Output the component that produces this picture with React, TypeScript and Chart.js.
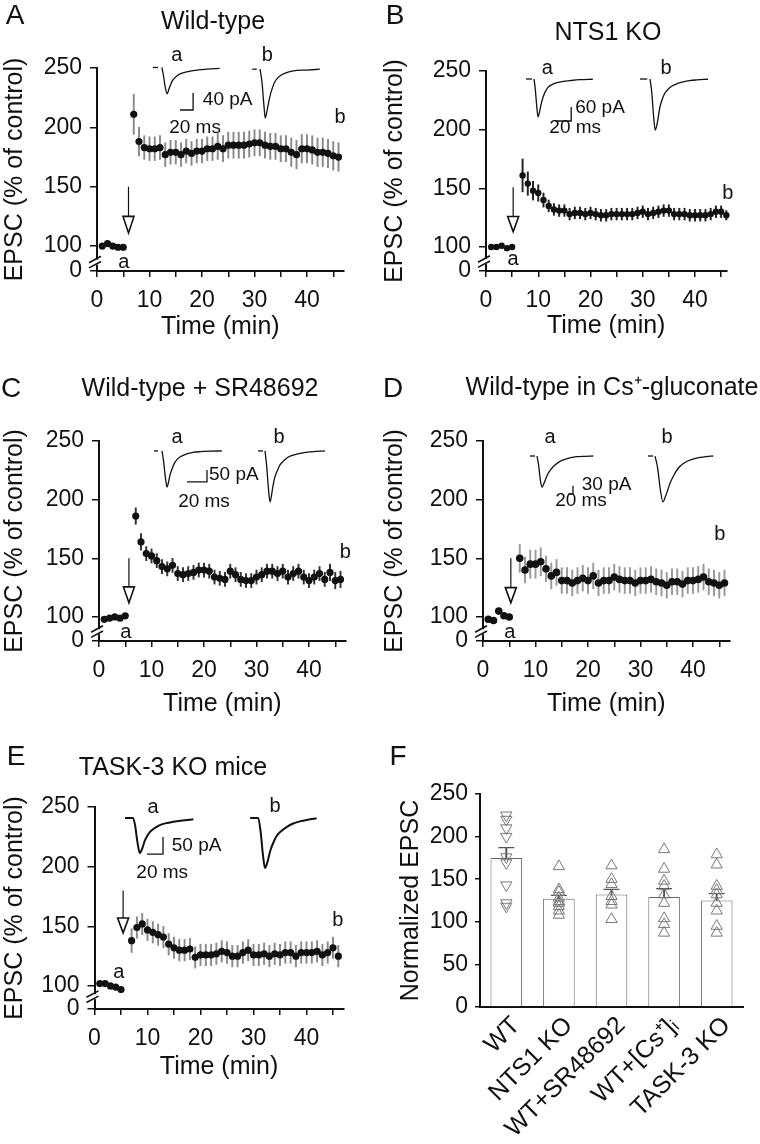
import React, { useEffect, useRef } from 'react';
import { Chart, registerables } from 'chart.js';
Chart.register(...registerables);

const FONT = '"Liberation Sans", Arial, Helvetica, sans-serif';
const INK = '#111111';

// ---------- time-course data (minutes, % of control) ----------
const TIME_MIN = [1, 2, 3, 4, 5, 7, 8, 9, 10, 11, 12, 13, 14, 15, 16, 17, 18, 19, 20, 21, 22, 23, 24, 25, 26, 27, 28, 29, 30, 31, 32, 33, 34, 35, 36, 37, 38, 39, 40, 41, 42, 43, 44, 45, 46];

const A_EPSC = [100, 102, 100, 99, 99, 211, 188, 183, 182, 182, 183, 177, 179, 179, 177, 180, 178, 180, 180, 182, 182, 184, 182, 185, 185, 185, 185, 186, 187, 187, 185, 184, 184, 182, 182, 179, 177, 182, 182, 181, 179, 179, 178, 176, 175];
const A_SEM = [2, 2, 2, 2, 2, 17, 12, 10, 10, 10, 10, 10, 10, 10, 10, 10, 10, 10, 10, 10, 10, 11, 11, 11, 11, 11, 11, 11, 11, 11, 11, 11, 11, 11, 11, 12, 12, 12, 12, 12, 12, 12, 12, 12, 12];

const B_EPSC = [100, 100, 101, 99, 100, 161, 154, 148, 146, 140, 135, 132, 131, 131, 128, 129, 129, 128, 129, 128, 127, 127, 128, 128, 128, 128, 128, 129, 130, 128, 129, 130, 131, 131, 128, 128, 128, 127, 127, 127, 127, 128, 130, 130, 127];
const B_SEM = [2, 2, 2, 2, 2, 14, 10, 8, 7, 6, 5, 5, 5, 5, 5, 5, 5, 5, 5, 5, 5, 5, 5, 5, 5, 5, 5, 5, 5, 5, 5, 5, 5, 5, 5, 5, 5, 5, 5, 5, 5, 5, 5, 5, 4];

const C_EPSC = [98, 99, 100, 99, 101, 186, 164, 154, 152, 148, 143, 141, 144, 137, 136, 137, 138, 140, 140, 139, 134, 133, 132, 139, 136, 132, 131, 131, 134, 136, 139, 139, 137, 139, 134, 137, 139, 134, 131, 134, 137, 132, 138, 131, 132];
const C_SEM = [2, 2, 2, 2, 2, 7, 7, 6, 6, 6, 6, 6, 6, 6, 6, 6, 6, 6, 6, 6, 6, 6, 6, 6, 6, 6, 6, 6, 6, 6, 6, 6, 6, 6, 6, 6, 6, 6, 6, 6, 6, 6, 7, 7, 7];

const D_EPSC = [98, 97, 105, 101, 100, 150, 140, 145, 145, 147, 141, 135, 138, 131, 131, 129, 131, 133, 131, 135, 129, 131, 131, 134, 132, 131, 131, 129, 131, 131, 132, 130, 129, 127, 130, 130, 128, 131, 131, 132, 134, 130, 129, 127, 129];
const D_SEM = [2, 2, 2, 2, 2, 12, 11, 12, 12, 12, 11, 11, 11, 11, 11, 11, 11, 11, 11, 11, 11, 11, 11, 11, 11, 11, 11, 11, 11, 11, 11, 11, 11, 11, 11, 11, 11, 11, 11, 11, 11, 11, 11, 11, 11];

const E_EPSC = [102, 102, 100, 99, 97, 138, 149, 152, 147, 145, 143, 141, 135, 132, 130, 130, 131, 124, 126, 126, 126, 127, 129, 128, 125, 125, 128, 130, 126, 126, 127, 125, 127, 126, 128, 128, 125, 128, 128, 128, 129, 126, 128, 132, 125];
const E_SEM = [2, 2, 2, 2, 2, 10, 9, 9, 9, 9, 9, 9, 9, 9, 9, 9, 9, 9, 9, 9, 9, 9, 9, 9, 9, 9, 9, 9, 9, 9, 9, 9, 9, 9, 9, 9, 9, 9, 9, 9, 9, 9, 9, 9, 9];

const Y_TICK_VALUES = [100, 150, 200, 250];
const Y_ZERO_LABEL = '0';

// ---------- example traces (ms, pA) ----------
const A_DASH_A = [[12, 0], [20, 0]];
const A_TRACE_A = [[26, 0], [28, -15], [31, -45], [34, -62], [37, -50], [40, -38], [43, -29], [48, -21], [54, -15], [62, -11], [74, -7.5], [85, -5], [95, -4], [115, -2]];
const A_DASH_B = [[165, -4], [172, -4]];
const A_TRACE_B = [[177, -4], [180, -35], [183, -90], [185, -119], [188, -100], [192, -69], [196, -48], [200, -33], [206, -22], [213, -15], [228, -8], [249, -6], [269, -4]];
const A_SCALE = [[54, -100], [74, -100], [74, -60]];

const B_DASH_A = [[7.5, 0], [15, 0]];
const B_TRACE_A = [[17.5, 0], [19, -40], [21, -120], [22.5, -163], [24.5, -140], [27, -100], [29, -76], [32, -52], [35, -36], [40, -24], [46, -16], [54, -10], [62, -7], [75, -3], [91, -1]];
const B_DASH_B = [[150, 0], [159, 0]];
const B_TRACE_B = [[162.5, 0], [164.5, -50], [167, -160], [169, -219], [171.5, -190], [175, -119], [178, -85], [181, -61], [185, -44], [190, -30], [197, -19], [204, -12], [212, -7], [221, -4], [235, -1]];
const B_SCALE = [[44, -180], [64, -180], [64, -120]];

const C_DASH_A = [[4, 0], [8, 0]];
const C_TRACE_A = [[12, 0], [13.5, -40], [15.5, -115], [17, -150], [18.5, -130], [20, -100], [21.7, -79], [24, -55], [26.7, -37.5], [30, -25], [36.7, -12.5], [43, -6], [50, -3], [60, -1], [72, 0]];
const C_DASH_B = [[108, 0], [113, 0]];
const C_TRACE_B = [[115, 0], [116.5, -55], [118.5, -160], [120, -212], [121.5, -185], [123, -145], [125, -107], [127.5, -80], [130, -58], [134, -40], [138, -26], [144, -16], [150, -10], [163, -3], [175, 0]];
const C_SCALE = [[37, -129], [57, -129], [57, -79]];

const D_DASH_A = [[20, 0], [40, 0]];
const D_TRACE_A = [[48, 0], [54, -30], [62, -90], [68, -112], [75, -100], [84, -80], [93, -62], [106, -45], [120, -32], [138, -20], [160, -12], [183, -6], [207, -2.5], [240, -1], [273, 0]];
const D_DASH_B = [[492, 0], [512, 0]];
const D_TRACE_B = [[520, 0], [530, -40], [542, -125], [552, -165], [562, -145], [571, -122], [580, -98], [596, -68], [613, -44], [632, -28], [653, -17], [675, -10], [700, -5], [725, -2], [753, 0]];
const D_SCALE = [[172, -137], [192, -137], [192, -107]];

const E_TRACE_A = [[12.5, 0], [22.5, 0], [25, -20], [28, -70], [31, -103], [34, -90], [37.5, -65], [44, -40], [50, -29], [56, -21], [64, -15], [73, -11], [82, -8], [90, -6], [98, -4]];
const E_TRACE_B = [[169, 0], [179, 0], [182, -40], [185, -110], [187.5, -147], [190.5, -130], [194, -97], [198, -72], [202, -53], [208, -38], [215, -26], [222, -17], [231, -10], [241, -5], [252, -1]];
const E_SCALE = [[40, -106], [60, -106], [60, -56]];

// ---------- summary (panel F) ----------
const F_GROUPS = ['WT', 'NTS1 KO', 'WT+SR48692', 'WT+[Cs\u207A]\u1D62', 'TASK-3 KO'];
const F_MEANS = [175, 127, 132, 129, 125];
const F_SEM = [12, 4, 6, 10, 8];
const F_WT = [225, 220, 210, 200, 176, 169, 143, 122, 118];
const F_NTS1 = [165, 138, 135, 128, 124, 122, 118, 113, 108];
const F_SR = [166, 150, 144, 130, 124, 120, 103];
const F_CS = [185, 162, 148, 142, 132, 122, 104, 97, 87];
const F_TASK = [179, 167, 142, 137, 132, 122, 113, 95, 87];
const F_TICKS = [0, 50, 100, 150, 200, 250];

// ---------- panel layout / style configs ----------
const TIME_PANELS = [
  {
    id: 'A', vals: A_EPSC, errs: A_SEM, errColor: '#8a8a8a', radius: 3.6,
    left: 0, top: 0, width: 380, height: 345,
    axisLeft: 97, pxPerMin: 5.25, xMax: 47, axisTop: 68, axisBottom: 271, xTitleY: 327, yZero: 79,
    letter: 'A', letterXY: [15, 16], title: 'Wild-type', titleXY: [213, 22],
    breakValue: 86.5, arrow: { x: 6, top: 150, head: 125, tip: 111 },
    labels: [{ text: 'a', x: 5.1, y: 86.5 }, { text: 'b', x: 46.3, y: 208 }],
  },
  {
    id: 'B', vals: B_EPSC, errs: B_SEM, errColor: '#222222', radius: 3.2,
    left: 380, top: 0, width: 380, height: 345,
    axisLeft: 486, pxPerMin: 5.225, xMax: 46, axisTop: 71, axisBottom: 271, xTitleY: 326, yZero: 79.5,
    letter: 'B', letterXY: [15, 16], title: 'NTS1 KO', titleXY: [228, 33],
    breakValue: 87.5, arrow: { x: 5.2, top: 151, head: 126, tip: 113 },
    labels: [{ text: 'a', x: 5.2, y: 89 }, { text: 'b', x: 46.3, y: 146 }],
  },
  {
    id: 'C', vals: C_EPSC, errs: C_SEM, errColor: '#333333', radius: 3.6,
    left: 0, top: 370, width: 380, height: 355,
    axisLeft: 99, pxPerMin: 5.25, xMax: 47, axisTop: 441, axisBottom: 641, xTitleY: 704, yZero: 79.5,
    letter: 'C', letterXY: [11, 19], title: 'Wild-type + SR48692', titleXY: [200, 19],
    breakValue: 87.5, arrow: { x: 5.7, top: 150, head: 125.6, tip: 112 },
    labels: [{ text: 'a', x: 5.1, y: 87 }, { text: 'b', x: 46.9, y: 155 }],
  },
  {
    id: 'D', vals: D_EPSC, errs: D_SEM, errColor: '#9a9a9a', radius: 3.8,
    left: 380, top: 370, width: 380, height: 355,
    axisLeft: 483, pxPerMin: 5.25, xMax: 47, axisTop: 441, axisBottom: 641, xTitleY: 704, yZero: 79.5,
    letter: 'D', letterXY: [13, 19], title: 'Wild-type in Cs\u207A-gluconate', titleXY: [232, 18],
    breakValue: 87.5, arrow: { x: 5.3, top: 150, head: 125, tip: 112 },
    labels: [{ text: 'a', x: 5.1, y: 87 }, { text: 'b', x: 45.1, y: 170 }],
  },
  {
    id: 'E', vals: E_EPSC, errs: E_SEM, errColor: '#8a8a8a', radius: 3.6,
    left: 0, top: 740, width: 380, height: 350,
    axisLeft: 94.5, pxPerMin: 5.3, xMax: 47, axisTop: 807, axisBottom: 1009, xTitleY: 1067, yZero: 80.7,
    letter: 'E', letterXY: [16, 17], title: 'TASK-3 KO mice', titleXY: [173, 28],
    breakValue: 91, arrow: { x: 5.4, top: 180, head: 157, tip: 144.5 },
    labels: [{ text: 'a', x: 4.6, y: 111 }, { text: 'b', x: 45.9, y: 155 }],
  },
];

const INSETS = [
  {
    id: 'iA', left: 145, top: 40, width: 200, height: 105, xMax: 307.7, yMin: -182.4, yMax: 64.7, lw: 1.3,
    traces: [A_TRACE_A, A_TRACE_B], straight: [A_DASH_A, A_DASH_B, A_SCALE],
    labels: [
      { text: 'a', x: 49, y: 29, size: 20, align: 'center' }, { text: 'b', x: 188, y: 29, size: 20, align: 'center' },
      { text: '40 pA', x: 89, y: -76, size: 19, align: 'left' }, { text: '20 ms', x: 77, y: -142, size: 19, align: 'center' },
    ],
  },
  {
    id: 'iB', left: 520, top: 55, width: 210, height: 90, xMax: 262.5, yMin: -283, yMax: 103, lw: 1.3,
    traces: [B_TRACE_A, B_TRACE_B], straight: [B_DASH_A, B_DASH_B, B_SCALE],
    labels: [
      { text: 'a', x: 34, y: 47, size: 20, align: 'center' }, { text: 'b', x: 182.5, y: 47, size: 20, align: 'center' },
      { text: '60 pA', x: 69, y: -124, size: 19, align: 'left' }, { text: '20 ms', x: 69, y: -210, size: 19, align: 'center' },
    ],
  },
  {
    id: 'iC', left: 150, top: 425, width: 190, height: 95, xMax: 190, yMin: -287.5, yMax: 108, lw: 1.3,
    traces: [C_TRACE_A, C_TRACE_B], straight: [C_DASH_A, C_DASH_B, C_SCALE],
    labels: [
      { text: 'a', x: 27, y: 56, size: 20, align: 'center' }, { text: 'b', x: 129, y: 56, size: 20, align: 'center' },
      { text: '50 pA', x: 59, y: -100, size: 19, align: 'left' }, { text: '20 ms', x: 54, y: -212, size: 19, align: 'center' },
    ],
  },
  {
    id: 'iD', left: 525, top: 425, width: 200, height: 90, xMax: 800, yMin: -212, yMax: 111.5, lw: 1.3,
    traces: [D_TRACE_A, D_TRACE_B], straight: [D_DASH_A, D_DASH_B, D_SCALE],
    labels: [
      { text: 'a', x: 100, y: 65, size: 20, align: 'center' }, { text: 'b', x: 568, y: 65, size: 20, align: 'center' },
      { text: '30 pA', x: 227, y: -104, size: 19, align: 'left' }, { text: '20 ms', x: 224, y: -160, size: 19, align: 'center' },
    ],
  },
  {
    id: 'iE', left: 115, top: 795, width: 210, height: 90, xMax: 262.5, yMin: -197, yMax: 67.6, lw: 2,
    traces: [E_TRACE_A, E_TRACE_B], straight: [E_SCALE],
    labels: [
      { text: 'a', x: 47.5, y: 32, size: 20, align: 'center' }, { text: 'b', x: 200, y: 35, size: 20, align: 'center' },
      { text: '50 pA', x: 71, y: -82, size: 19, align: 'left' }, { text: '20 ms', x: 59, y: -162, size: 19, align: 'center' },
    ],
  },
];

// ---------- plugins ----------
const timeDecor = {
  id: 'timeDecor',
  afterDraw(chart: any, _args: any, o: any) {
    const { ctx, chartArea } = chart;
    const xs = chart.scales.x;
    const ys = chart.scales.y;
    ctx.save();
    ctx.fillStyle = INK;
    ctx.strokeStyle = INK;
    ctx.textAlign = 'center';
    ctx.textBaseline = 'middle';
    ctx.font = `28px ${FONT}`;
    ctx.fillText(o.letter, o.letterXY[0], o.letterXY[1]);
    ctx.font = `25px ${FONT}`;
    ctx.fillText(o.title, o.titleXY[0], o.titleXY[1]);

    // axis break
    const ax = chartArea.left;
    const by = ys.getPixelForValue(o.breakValue);
    ctx.fillStyle = '#ffffff';
    ctx.fillRect(ax - 2, by - 2.5, 4.5, 5);
    ctx.strokeStyle = INK;
    ctx.lineWidth = 1.6;
    for (const d of [-2.6, 2.6]) {
      ctx.beginPath();
      ctx.moveTo(ax - 8, by + d + 3.2);
      ctx.lineTo(ax + 4, by + d - 3.2);
      ctx.stroke();
    }

    // arrow
    const px = xs.getPixelForValue(o.arrow.x);
    const yTop = ys.getPixelForValue(o.arrow.top);
    const yHead = ys.getPixelForValue(o.arrow.head);
    const yTip = ys.getPixelForValue(o.arrow.tip);
    ctx.lineWidth = 1.2;
    ctx.beginPath();
    ctx.moveTo(px, yTop);
    ctx.lineTo(px, yHead);
    ctx.stroke();
    ctx.beginPath();
    ctx.moveTo(px - 5.5, yHead);
    ctx.lineTo(px + 5.5, yHead);
    ctx.lineTo(px, yTip);
    ctx.closePath();
    ctx.fillStyle = '#ffffff';
    ctx.fill();
    ctx.lineWidth = 1.6;
    ctx.stroke();

    // a / b labels
    ctx.fillStyle = INK;
    ctx.font = `20px ${FONT}`;
    for (const l of o.labels) {
      ctx.fillText(l.text, xs.getPixelForValue(l.x), ys.getPixelForValue(l.y));
    }
    ctx.restore();
  },
};

const insetText = {
  id: 'insetText',
  afterDraw(chart: any, _args: any, o: any) {
    const { ctx } = chart;
    const xs = chart.scales.x;
    const ys = chart.scales.y;
    ctx.save();
    ctx.fillStyle = INK;
    ctx.textBaseline = 'middle';
    for (const l of o.labels) {
      ctx.font = `${l.size}px ${FONT}`;
      ctx.textAlign = l.align;
      ctx.fillText(l.text, xs.getPixelForValue(l.x), ys.getPixelForValue(l.y));
    }
    ctx.restore();
  },
};

const letterPlugin = {
  id: 'letterPlugin',
  afterDraw(chart: any, _args: any, o: any) {
    const { ctx } = chart;
    ctx.save();
    ctx.fillStyle = INK;
    ctx.textAlign = 'center';
    ctx.textBaseline = 'middle';
    ctx.font = `28px ${FONT}`;
    ctx.fillText(o.letter, o.x, o.y);
    ctx.restore();
  },
};

// ---------- components ----------
function TimePanel({ p }: { p: any }) {
  const ref = useRef<HTMLCanvasElement>(null);
  useEffect(() => {
    const axisRight = p.axisLeft + p.xMax * p.pxPerMin;
    const xH = p.xTitleY + 15 - p.axisBottom;
    const padding = {
      left: 0,
      top: p.axisTop - p.top,
      right: p.left + p.width - axisRight,
      bottom: p.top + p.height - p.axisBottom - xH,
    };
    const yW = p.axisLeft - p.left;
    const yTicks = [p.yZero, ...Y_TICK_VALUES];
    const chart = new Chart(ref.current as HTMLCanvasElement, {
      type: 'scatter',
      data: {
        datasets: [
          {
            type: 'scatter',
            data: TIME_MIN.map((t, i) => ({ x: t, y: p.vals[i] })),
            pointRadius: p.radius,
            pointBackgroundColor: INK,
            pointBorderColor: INK,
            pointBorderWidth: 0,
            showLine: false,
            clip: false,
            order: 0,
          },
          {
            type: 'bar',
            data: TIME_MIN.map((t, i) => ({ x: t, y: [p.vals[i] - p.errs[i], p.vals[i] + p.errs[i]] })),
            backgroundColor: p.errColor,
            borderWidth: 0,
            barThickness: 1.3,
            clip: false,
            order: 1,
          },
        ],
      } as any,
      options: {
        animation: false,
        responsive: false,
        devicePixelRatio: 1,
        events: [],
        layout: { autoPadding: false, padding },
        plugins: {
          legend: { display: false },
          tooltip: { enabled: false },
          timeDecor: {
            letter: p.letter, letterXY: p.letterXY, title: p.title, titleXY: p.titleXY,
            breakValue: p.breakValue, arrow: p.arrow, labels: p.labels,
          },
        },
        scales: {
          x: {
            type: 'linear',
            min: 0,
            max: p.xMax,
            offset: false,
            afterFit: (s: any) => { s.height = xH; },
            border: { display: true, color: INK, width: 2 },
            grid: { display: true, offset: false, drawOnChartArea: false, drawTicks: true, tickLength: 6, color: INK, lineWidth: 1.5 },
            ticks: {
              stepSize: 5, includeBounds: false, autoSkip: false, maxRotation: 0, minRotation: 0, padding: 10,
              color: INK, font: { family: FONT, size: 23 },
              callback: (v: any) => (Number(v) % 10 === 0 ? String(v) : ''),
            },
            title: { display: true, text: 'Time (min)', color: INK, font: { family: FONT, size: 25 }, padding: 0 },
          },
          y: {
            type: 'linear',
            min: p.yZero,
            max: 250,
            afterFit: (s: any) => { s.width = yW; },
            afterBuildTicks: (s: any) => { s.ticks = yTicks.map((v: number) => ({ value: v })); },
            border: { display: true, color: INK, width: 2 },
            grid: { display: true, drawOnChartArea: false, drawTicks: true, tickLength: 7, color: INK, lineWidth: 1.5 },
            ticks: {
              padding: 8, color: INK, font: { family: FONT, size: 23 },
              callback: (v: any) => (v === p.yZero ? Y_ZERO_LABEL : String(v)),
            },
            title: { display: true, text: 'EPSC (% of control)', color: INK, font: { family: FONT, size: 25 }, padding: 0 },
          },
        },
      } as any,
      plugins: [timeDecor],
    } as any);
    return () => chart.destroy();
  }, [p]);
  return (
    <canvas
      ref={ref}
      width={p.width}
      height={p.height}
      style={{ position: 'absolute', left: p.left, top: p.top, width: p.width, height: p.height }}
    />
  );
}

function Inset({ c }: { c: any }) {
  const ref = useRef<HTMLCanvasElement>(null);
  useEffect(() => {
    const toPts = (arr: number[][]) => arr.map(([x, y]) => ({ x, y }));
    const datasets = [
      ...c.traces.map((tr: number[][]) => ({
        data: toPts(tr), showLine: true, pointRadius: 0, borderColor: INK, borderWidth: c.lw,
        cubicInterpolationMode: 'monotone', fill: false, clip: false,
      })),
      ...c.straight.map((tr: number[][]) => ({
        data: toPts(tr), showLine: true, pointRadius: 0, borderColor: INK, borderWidth: 1.3,
        tension: 0, fill: false, clip: false,
      })),
    ];
    const chart = new Chart(ref.current as HTMLCanvasElement, {
      type: 'scatter',
      data: { datasets },
      options: {
        animation: false,
        responsive: false,
        devicePixelRatio: 1,
        events: [],
        layout: { autoPadding: false, padding: 0 },
        plugins: { legend: { display: false }, tooltip: { enabled: false }, insetText: { labels: c.labels } },
        scales: {
          x: { type: 'linear', display: false, min: 0, max: c.xMax },
          y: { type: 'linear', display: false, min: c.yMin, max: c.yMax },
        },
      } as any,
      plugins: [insetText],
    } as any);
    return () => chart.destroy();
  }, [c]);
  return (
    <canvas
      ref={ref}
      width={c.width}
      height={c.height}
      style={{ position: 'absolute', left: c.left, top: c.top, width: c.width, height: c.height }}
    />
  );
}

function SummaryPanel() {
  const ref = useRef<HTMLCanvasElement>(null);
  const P = { left: 380, top: 745, width: 380, height: 399, axisLeft: 480, axisRight: 743, axisTop: 794, axisBottom: 1007, padLeft: 16 };
  useEffect(() => {
    const tri = (vals: number[], gi: number, rot: number) => ({
      type: 'scatter',
      data: vals.map((v) => ({ x: F_GROUPS[gi], y: v })),
      pointStyle: 'triangle',
      rotation: rot,
      pointRadius: 6.5,
      pointBorderColor: '#777777',
      pointBackgroundColor: 'rgba(0,0,0,0)',
      pointBorderWidth: 1,
      clip: false,
      order: 0,
    });
    const chart = new Chart(ref.current as HTMLCanvasElement, {
      type: 'bar',
      data: {
        labels: F_GROUPS,
        datasets: [
          {
            type: 'bar', data: F_MEANS, backgroundColor: '#ffffff', borderColor: '#666666', borderWidth: 1,
            barPercentage: 0.6, categoryPercentage: 1, grouped: false, order: 5,
          },
          {
            type: 'bar', data: F_MEANS.map((m, i) => [m, m + F_SEM[i]]), backgroundColor: '#555555',
            borderWidth: 0, barThickness: 1.3, grouped: false, order: 4,
          },
          {
            type: 'scatter', data: F_GROUPS.map((g, i) => ({ x: g, y: F_MEANS[i] + F_SEM[i] })),
            pointStyle: 'line', pointRadius: 8, pointBorderColor: '#555555', pointBorderWidth: 1.3, order: 3,
          },
          tri(F_WT, 0, 180),
          tri(F_NTS1, 1, 0),
          tri(F_SR, 2, 0),
          tri(F_CS, 3, 0),
          tri(F_TASK, 4, 0),
        ],
      } as any,
      options: {
        animation: false,
        responsive: false,
        devicePixelRatio: 1,
        events: [],
        layout: {
          autoPadding: false,
          padding: { left: P.padLeft, top: P.axisTop - P.top, right: P.left + P.width - P.axisRight, bottom: 0 },
        },
        plugins: { legend: { display: false }, tooltip: { enabled: false }, letterPlugin: { letter: 'F', x: 18, y: 12 } },
        scales: {
          x: {
            type: 'category',
            offset: true,
            afterFit: (s: any) => { s.height = P.top + P.height - P.axisBottom; },
            border: { display: true, color: INK, width: 2 },
            grid: { display: false, drawTicks: false, drawOnChartArea: false },
            ticks: {
              autoSkip: false, minRotation: 45, maxRotation: 45, padding: 4, labelOffset: 10,
              color: INK, font: { family: FONT, size: 25 },
            },
          },
          y: {
            type: 'linear',
            min: 0,
            max: 250,
            afterFit: (s: any) => { s.width = P.axisLeft - P.left - P.padLeft; },
            afterBuildTicks: (s: any) => { s.ticks = F_TICKS.map((v) => ({ value: v })); },
            border: { display: true, color: INK, width: 2 },
            grid: { display: true, drawOnChartArea: false, drawTicks: true, tickLength: 5, color: INK, lineWidth: 1.5 },
            ticks: { padding: 7, color: INK, font: { family: FONT, size: 23 } },
            title: { display: true, text: 'Normalized EPSC', color: INK, font: { family: FONT, size: 25 }, padding: 0 },
          },
        },
      } as any,
      plugins: [letterPlugin],
    } as any);
    return () => chart.destroy();
  }, []);
  return (
    <canvas
      ref={ref}
      width={P.width}
      height={P.height}
      style={{ position: 'absolute', left: P.left, top: P.top, width: P.width, height: P.height }}
    />
  );
}

export default function App() {
  return (
    <div style={{ position: 'absolute', left: 0, top: 0, width: 760, height: 1144, background: '#ffffff', overflow: 'hidden' }}>
      {TIME_PANELS.map((p) => (
        <TimePanel key={p.id} p={p} />
      ))}
      <SummaryPanel />
      {INSETS.map((c) => (
        <Inset key={c.id} c={c} />
      ))}
    </div>
  );
}
